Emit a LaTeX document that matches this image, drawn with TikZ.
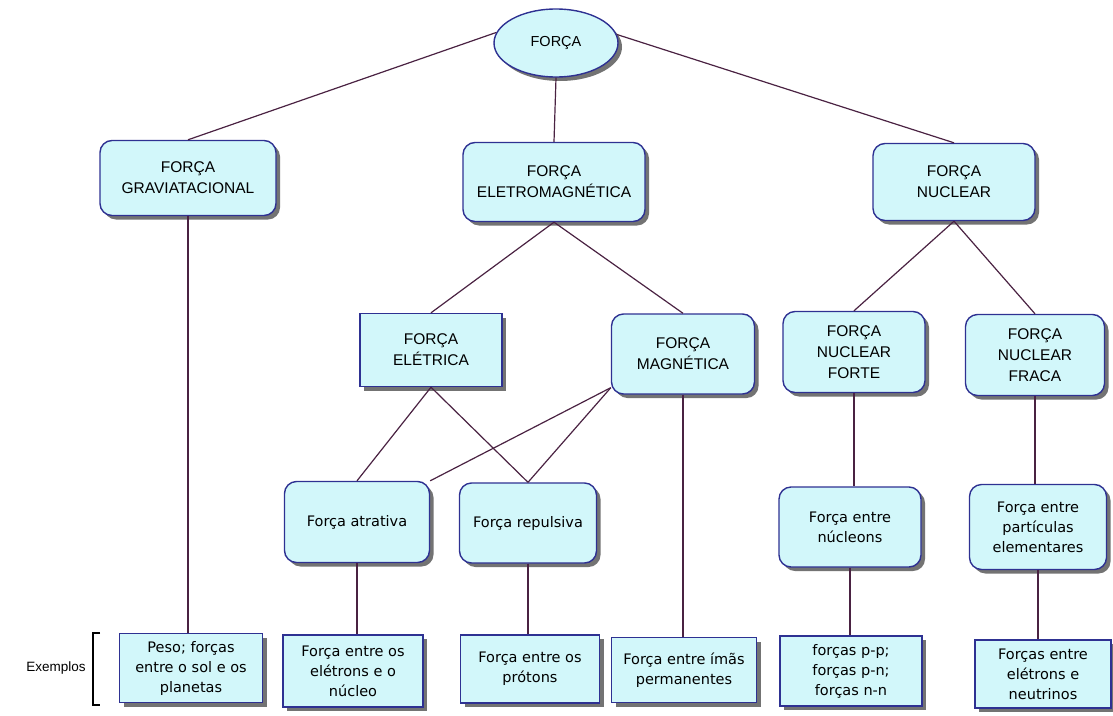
\documentclass[tikz,border=0pt]{standalone}
\usepackage{fontspec}
\setmainfont{Liberation Sans}
\newfontfamily\leaffont{DejaVu Sans}
\usetikzlibrary{shapes.geometric,shadows}
\definecolor{boxfill}{HTML}{D2F7FA}
\definecolor{boxline}{HTML}{2E3192}
\definecolor{linkcol}{HTML}{4A2242}

\begin{document}
\begin{tikzpicture}[x=1pt, y=-1pt,
    base/.style   = {draw=boxline, fill=boxfill, line width=1.4pt, align=center, inner sep=2pt,
                     drop shadow={shadow xshift=4pt, shadow yshift=-4pt, fill=black!55, opacity=1}},
    headbox/.style = {base, rounded corners=12pt, font=\fontsize{15.5}{21}\selectfont},
    flatbox/.style = {base, font=\fontsize{15.5}{21}\selectfont},
    midbox/.style  = {base, rounded corners=12pt, font=\leaffont\fontsize{14.5}{20}\selectfont},
    leafbox/.style = {base, font=\leaffont\fontsize{14.5}{20}\selectfont},
    link/.style    = {draw=linkcol, line width=1.2pt}]
        \useasboundingbox (0,0) rectangle (1113,715);

        %top
        \node[base, ellipse, minimum width=124, minimum height=68, font=\fontsize{14.5}{19}\selectfont, name=top] at (556,43) {FORÇA};

        %kinds of force
        \node[headbox, minimum width=176, minimum height=75, name=grav ] at (188 ,178) {FORÇA\\GRAVIATACIONAL};
        \node[headbox, minimum width=182, minimum height=79, name=em   ] at (554 ,182) {FORÇA\\ELETROMAGNÉTICA};
        \node[headbox, minimum width=162, minimum height=77, name=nuc  ] at (954 ,182) {FORÇA\\NUCLEAR};
        \node[flatbox, minimum width=142, minimum height=73, name=ele  ] at (431 ,350) {FORÇA\\ELÉTRICA};
        \node[headbox, minimum width=143, minimum height=80, name=mag  ] at (683 ,354) {FORÇA\\MAGNÉTICA};
        \node[headbox, minimum width=142, minimum height=81, name=forte] at (854 ,352) {FORÇA\\NUCLEAR\\FORTE};
        \node[headbox, minimum width=139, minimum height=81, name=fraca] at (1035,355) {FORÇA\\NUCLEAR\\FRACA};

        %middle row
        \node[midbox, minimum width=145, minimum height=81, name=atr  ] at (357 ,522) {Força atrativa};
        \node[midbox, minimum width=137, minimum height=80, name=rep  ] at (528 ,523) {Força repulsiva};
        \node[midbox, minimum width=142, minimum height=80, name=ncl  ] at (850 ,527) {Força entre\\núcleons};
        \node[midbox, minimum width=137, minimum height=85, name=part ] at (1038,527) {Força entre\\partículas\\elementares};

        %examples
        \node[leafbox, minimum width=143, minimum height=69, name=peso  ] at (191 ,668) {Peso; forças\\entre o sol e os\\planetas};
        \node[leafbox, minimum width=140, minimum height=72, name=eletr ] at (353 ,671) {Força entre os\\elétrons e o\\núcleo};
        \node[leafbox, minimum width=139, minimum height=68, name=prot  ] at (530 ,669) {Força entre os\\prótons};
        \node[leafbox, minimum width=145, minimum height=65, name=ima   ] at (684 ,670) {Força entre ímãs\\permanentes};
        \node[leafbox, minimum width=142, minimum height=70, name=pp    ] at (851 ,671) {forças p-p;\\forças p-n;\\forças n-n};
        \node[leafbox, minimum width=136, minimum height=68, name=neutr ] at (1043,674) {Forças entre\\elétrons e\\neutrinos};

        \node[font=\fontsize{13.5}{14}\selectfont, name=exlabel] at (56,668) {Exemplos};
        \draw[line width=1.2pt] (100,633) -- (93,633) -- (93,705) -- (100,705);

        %links
        \draw[link] (top.170) -- (grav.north);
        \draw[link] (top.south) -- (em.north);
        \draw[link] (top.8) -- (nuc.north);
        \draw[link] (em.south) -- (ele.north);
        \draw[link] (em.south) -- (mag.north);
        \draw[link] (nuc.south) -- (forte.north);
        \draw[link] (nuc.south) -- (fraca.north);
        \draw[link] (ele.south) -- (atr.north);
        \draw[link] (ele.south) -- (rep.north);
        \draw[link] (mag.205) -- (atr.north east);
        \draw[link] (mag.205) -- (rep.north);
        \draw[link] (grav.south)  -- (grav.south  |- peso.north);
        \draw[link] (mag.south)   -- (mag.south   |- ima.north);
        \draw[link] (forte.south) -- (forte.south |- ncl.north);
        \draw[link] (fraca.south) -- (fraca.south |- part.north);
        \draw[link] (atr.south)   -- (atr.south   |- eletr.north);
        \draw[link] (rep.south)   -- (rep.south   |- prot.north);
        \draw[link] (ncl.south)   -- (ncl.south   |- pp.north);
        \draw[link] (part.south)  -- (part.south  |- neutr.north);
\end{tikzpicture}
\end{document}
